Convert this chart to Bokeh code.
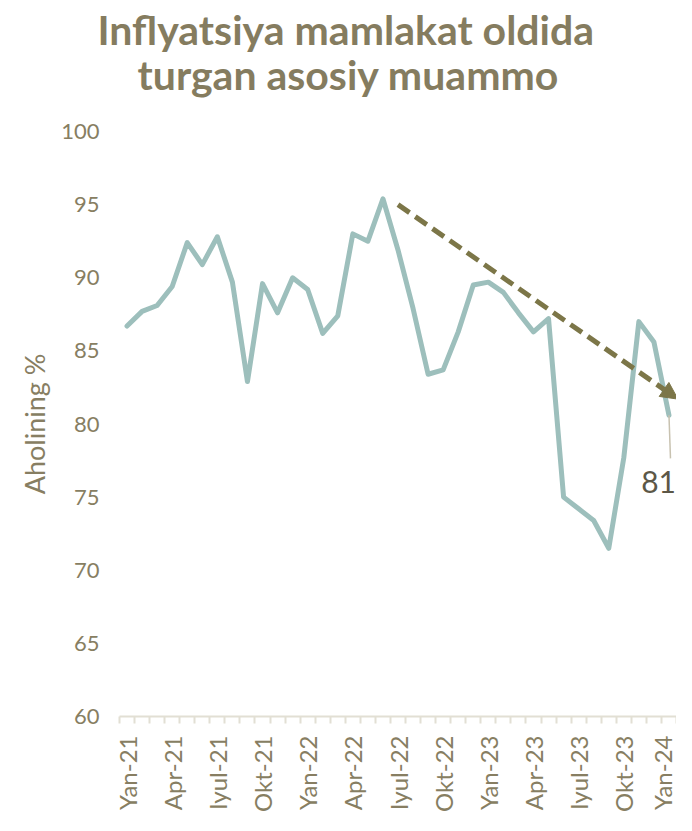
import math
from bokeh.plotting import figure
from bokeh.models import (Range1d, FixedTicker, Arrow, NormalHead, Label, Title)
from bokeh.embed import file_html
from bokeh.resources import INLINE

# ---------------- data ----------------
months = ["Yan-21", "Fev-21", "Mar-21", "Apr-21", "May-21", "Iyun-21", "Iyul-21", "Avg-21",
          "Sen-21", "Okt-21", "Noy-21", "Dek-21",
          "Yan-22", "Fev-22", "Mar-22", "Apr-22", "May-22", "Iyun-22", "Iyul-22", "Avg-22",
          "Sen-22", "Okt-22", "Noy-22", "Dek-22",
          "Yan-23", "Fev-23", "Mar-23", "Apr-23", "May-23", "Iyun-23", "Iyul-23", "Avg-23",
          "Sen-23", "Okt-23", "Noy-23", "Dek-23",
          "Yan-24"]
values = [86.7, 87.7, 88.1, 89.4, 92.4, 90.9, 92.8, 89.7, 82.9, 89.6, 87.6, 90.0,
          89.2, 86.2, 87.4, 93.0, 92.5, 95.4, 91.9, 87.9, 83.4, 83.7, 86.3, 89.5,
          89.7, 89.0, 87.6, 86.3, 87.2, 75.0, 74.2, 73.4, 71.5, 77.7, 87.0, 85.6,
          80.6]
y_ticks = [60, 65, 70, 75, 80, 85, 90, 95, 100]
label_every = 3
trend_start = ("Iyul-22", 95.0)
trend_end = (36.6, 81.7)
last_label = "81"
leader_end = 77.65

title_lines = ["Inflyatsiya mamlakat oldida", "turgan asosiy muammo"]
y_label = "Aholining %"

# ---------------- styles ----------------
FONT = "Lato"
TITLE_C = "#857c5f"
TICK_C = "#877e62"
LINE_C = "#9dbfbc"
ARROW_C = "#7c7648"
AXIS_C = "#e2dfd4"

x = list(range(len(months)))

p = figure(width=676, height=815, output_backend="svg", toolbar_location=None,
           x_range=Range1d(-0.5, len(months) - 0.5), y_range=Range1d(60, 100),
           min_border_left=119, min_border_right=0, min_border_top=131,
           min_border_bottom=97, title=None)
p.outline_line_color = None
p.grid.grid_line_color = None
p.background_fill_color = "white"
p.border_fill_color = "white"

# title: two lines, each its own Title (inner line added first)
t2 = Title(text=title_lines[1], align="left", offset=18, standoff=66,
           text_font=FONT, text_font_size="41px", text_font_style="bold",
           text_color=TITLE_C)
t1 = Title(text=title_lines[0], align="left", offset=-22, standoff=-78,
           text_font=FONT, text_font_size="41px", text_font_style="bold",
           text_color=TITLE_C)
p.add_layout(t2, "above")
p.add_layout(t1, "above")

# y axis
ya = p.yaxis[0]
ya.ticker = FixedTicker(ticks=y_ticks)
ya.axis_line_color = None
ya.major_tick_line_color = None
ya.minor_tick_line_color = None
ya.major_tick_out = 0
ya.major_tick_in = 0
ya.major_label_text_font = FONT
ya.major_label_text_font_size = "22px"
ya.major_label_text_color = TICK_C
ya.major_label_standoff = 20
ya.axis_label = y_label
ya.axis_label_text_font = FONT
ya.axis_label_text_font_size = "27px"
ya.axis_label_text_font_style = "normal"
ya.axis_label_text_color = TICK_C
ya.axis_label_standoff = 7

# x axis
xa = p.xaxis[0]
lab_pos = x[::label_every]
xa.ticker = FixedTicker(ticks=lab_pos, minor_ticks=[i - 0.5 for i in range(len(months) + 1)])
xa.major_label_overrides = {i: months[i] for i in lab_pos}
xa.major_label_orientation = math.pi / 2
xa.axis_line_color = AXIS_C
xa.axis_line_width = 2
xa.major_tick_line_color = None
xa.major_tick_out = 0
xa.major_tick_in = 0
xa.minor_tick_line_color = AXIS_C
xa.minor_tick_line_width = 2
xa.minor_tick_out = 7
xa.minor_tick_in = 0
xa.major_label_text_font = FONT
xa.major_label_text_font_size = "24px"
xa.major_label_text_color = TICK_C
xa.major_label_standoff = 12

# main line
p.line(x, values, line_width=5, line_color=LINE_C, line_join="round", line_cap="round")

# trend arrow
p.add_layout(Arrow(x_start=months.index(trend_start[0]), y_start=trend_start[1],
                   x_end=trend_end[0], y_end=trend_end[1],
                   line_color=ARROW_C, line_width=5, line_dash="14 7",
                   end=NormalHead(size=17, fill_color=ARROW_C, line_color=ARROW_C, line_width=1)))

# last value callout
p.segment(x0=[x[-1]], y0=[values[-1]], x1=[x[-1] + 0.1], y1=[leader_end],
          line_color="#c8c2b0", line_width=1.5)
p.add_layout(Label(x=x[-1], y=leader_end, text=last_label, text_font=FONT,
                   text_font_size="30px", text_color="#5c5747", text_align="right",
                   text_baseline="top", x_offset=7, y_offset=-13))

open("out.html", "w").write(file_html(p, INLINE))
